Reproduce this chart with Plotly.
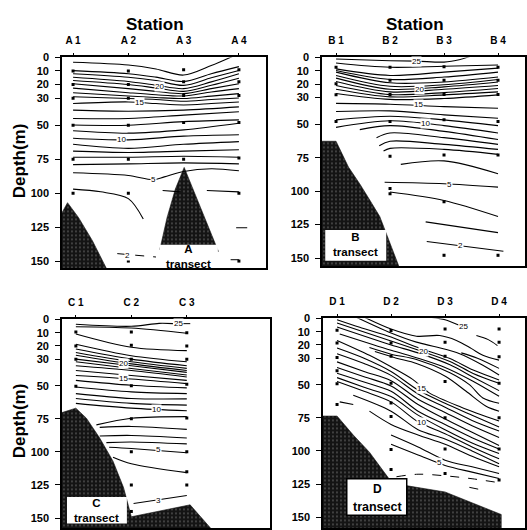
import plotly.graph_objects as go

W, H = 527, 530
FONT = "Liberation Sans"

DEPTH_TICKS = [0, 10, 20, 30, 50, 75, 100, 125, 150]
A_STATIONS = ["A 1", "A 2", "A 3", "A 4"]
B_STATIONS = ["B 1", "B 2", "B 3", "B 4"]
C_STATIONS = ["C 1", "C 2", "C 3"]
D_STATIONS = ["D 1", "D 2", "D 3", "D 4"]

# ---------- Transect A: isolines as (station position, depth m) ----------
A_ISOLINES = [
    [(0, 3.6), (1, 5.6), (1.5, 8.5), (2, 13), (2.5, 6), (2.9, -1)],
    [(0, 9.7), (1, 12), (1.5, 14.5), (2, 17.7), (2.5, 12), (3, 6.8)],
    [(0, 12), (1, 14.6), (1.5, 17), (2, 20.6), (2.5, 15), (3, 9.7)],
    [(0, 14.6), (1, 17.7), (1.5, 20.5), (2, 23), (2.5, 18), (3, 12)],
    [(0, 17), (1, 20), (1.5, 22.5), (2, 25), (2.5, 20.5), (3, 15.3)],
    [(0, 19.4), (1, 23), (1.5, 25), (2, 26.7), (2.5, 23), (3, 19.4)],
    [(0, 22.6), (1, 26), (1.5, 27.5), (2, 28.4), (2.5, 25.5), (3, 23)],
    [(0, 26), (1, 28.4), (1.5, 29.5), (2, 30.3), (2.5, 28.5), (3, 26.7)],
    [(0, 29), (1, 30.3), (1.5, 31), (2, 32.3), (2.5, 31), (3, 29.9)],
    [(0, 34), (1, 32.8), (1.5, 34), (2, 35), (2.5, 34), (3, 32.8)],
    [(0, 38.8), (1, 39.6), (2, 38.8), (3, 36.4)],
    [(0, 45), (1, 45), (2, 42.5), (3, 40)],
    [(0, 49.8), (1, 50), (2, 47.3), (3, 46)],
    [(0, 54), (1, 55.8), (2, 53.4), (3, 48.5)],
    [(0, 59.5), (1, 60.7), (2, 58), (3, 57)],
    [(0, 64), (1, 67), (2, 64), (3, 62)],
    [(0, 69), (1, 70), (2, 69), (3, 68)],
    [(0, 73.5), (1, 73.5), (2, 72.8), (3, 73.5)],
    [(0, 79), (1, 78.4), (2, 77.7), (3, 78.4)],
    [(0, 85), (1, 87), (1.45, 90), (1.65, 88), (2, 84), (2.5, 82), (3, 83.5)],
    [(0, 97), (0.5, 99), (1, 104), (1.27, 119)],
    [(1.62, 98), (1.95, 99)],
    [(2.42, 98), (3.0, 99)],
    [(2.95, 125.5), (3.15, 125.5)],
]
A_DASHED = [[(0.8, 144.5), (1.5, 147)], [(2.85, 149), (3.0, 149)]]
A_LABELS = [("20", 1.56, 21.4), ("15", 1.21, 33), ("10", 0.88, 60.7), ("5", 1.45, 90), ("2", 0.98, 145.6)]
A_SAMPLES = [(0, 10), (0, 20), (0, 30), (0, 50), (0, 75), (0, 100),
             (1, 10), (1, 20), (1, 30), (1, 50), (1, 75), (1, 100), (1, 150),
             (2, 9), (2, 18), (2, 28), (2, 48), (2, 75),
             (3, 9), (3, 18), (3, 28), (3, 48), (3, 74), (3, 100), (3, 150)]
A_SEABED = [
    [(-0.25, 118), (-0.1, 107), (0.1, 118), (0.35, 135), (0.66, 160), (-0.25, 160)],
    [(1.57, 141.5), (1.7, 118), (1.85, 97), (2.01, 81), (2.15, 95), (2.35, 115), (2.63, 143)],
]

# ---------- Transect B ----------
B_ISOLINES = [
    [(0, 1.2), (1, 2.5), (1.5, 2.8), (2, 3.5), (2.3, 1.5), (2.5, -1)],
    [(0, 4.2), (1, 7.4), (2, 6.6), (3, 5.7)],
    [(0, 8.6), (1, 13.5), (2, 11), (3, 8)],
    [(0, 9.8), (1, 16.5), (2, 14.7), (3, 11)],
    [(0, 11), (1, 19), (2, 18.4), (3, 14.7)],
    [(0, 13.5), (1, 21.6), (2, 20.4), (3, 16.5)],
    [(0, 15.5), (1, 23.8), (2, 22), (3, 18.4)],
    [(0, 18), (1, 25.8), (2, 23.8), (3, 21)],
    [(0, 21), (1, 27.8), (2, 26.3), (3, 23.3)],
    [(0, 23.8), (1, 29.5), (2, 28), (3, 25.8)],
    [(0, 27), (1, 31.4), (2, 30.7), (3, 28)],
    [(0, 34.4), (1, 35), (2, 36.8), (3, 38)],
    [(0, 40.5), (1, 40), (2, 43), (3, 45.5)],
    [(0, 46.7), (1, 44), (2, 46.7), (3, 51)],
    [(0, 52.3), (1, 47.4), (2, 51), (3, 56.5)],
    [(0.44, 54), (1, 51), (2, 55.3), (3, 61.4)],
    [(0.75, 60), (1, 56.5), (2, 60), (3, 65)],
    [(0.8, 66), (1, 62.7), (2, 65), (3, 68.8)],
    [(0.88, 70), (1, 68), (2, 68.8), (3, 72.5)],
    [(1.2, 80), (2, 77.4), (3, 87)],
    [(0.9, 93.4), (2, 94.5), (3, 97)],
    [(1.0, 100.7), (2, 107), (3, 119)],
    [(1.66, 123), (3, 131)],
    [(1.68, 137.6), (3.1, 145)],
]
B_DASHED = []
B_LABELS = [("25", 1.49, 3), ("20", 1.54, 24), ("15", 1.52, 35), ("10", 1.66, 49.6), ("5", 2.1, 94.8), ("2", 2.3, 140.3)]
B_SAMPLES = [(0, 7.4), (0, 19.7), (0, 28), (0, 48),
             (1, 7.4), (1, 17), (1, 27.8), (1, 48), (1, 74), (1, 98), (1, 102),
             (2, 7), (2, 17), (2, 27.8), (2, 46.7), (2, 73), (2, 108), (2, 148),
             (3, 7.4), (3, 17), (3, 27.8), (3, 48), (3, 73), (3, 148)]
B_SEABED = [
    [(-0.3, 62.7), (0, 62.7), (0.23, 82), (0.44, 94.6), (0.63, 107), (0.81, 119), (1.2, 160), (-0.3, 160)],
]

# ---------- Transect C ----------
C_ISOLINES = [
    [(0, 3.7), (1, 5.2), (1.5, 3), (1.75, 3.2)],
    [(0, 5.5), (1, 6.5), (2, 10.4)],
    [(0, 11), (1, 21), (2, 23.6)],
    [(0, 18.7), (1, 27.4), (2, 32)],
    [(0, 22.4), (1, 30), (2, 35)],
    [(0, 25), (1, 32), (2, 37)],
    [(0, 27), (1, 33.6), (2, 38.6)],
    [(0, 30), (1, 35), (2, 40)],
    [(0, 32), (1, 37), (2, 42)],
    [(0, 35), (1, 38.6), (2, 43.5)],
    [(0, 38.6), (1, 42.3), (2, 46)],
    [(0, 42.3), (1, 45), (2, 48.5)],
    [(0, 46), (1, 49.7), (2, 51.7)],
    [(0, 51), (1, 54.7), (2, 56)],
    [(0, 56), (1, 59.7), (2, 60)],
    [(0, 59.7), (1, 63.4), (2, 64.7)],
    [(0, 63.4), (1, 67), (2, 69)],
    [(0.37, 79.6), (1, 74.6), (2, 73.4)],
    [(0.43, 81.5), (1, 80.8), (2, 83)],
    [(0.43, 88), (1, 87.6), (2, 89.5)],
    [(0.55, 93), (1, 92.5), (2, 94)],
    [(0.6, 96.5), (1, 97.5), (2, 100.7)],
    [(0.67, 104), (1, 109), (2, 115.7)],
    [(1.04, 139), (2, 133)],
]
C_DASHED = [[(1.9, 3.2), (2.1, 3.2)]]
C_LABELS = [("25", 1.85, 3.2), ("20", 0.86, 33.6), ("15", 0.86, 44.8), ("10", 1.46, 67.7), ("5", 1.49, 98.5), ("3", 1.49, 136.5)]
C_SAMPLES = [(0, 9.5), (0, 20), (0, 30), (0, 50.5),
             (1, 9.5), (1, 19.5), (1, 30), (1, 50), (1, 75), (1, 100), (1, 125), (1, 145),
             (2, 10), (2, 20), (2, 30), (2, 49), (2, 74.5), (2, 100), (2, 115), (2, 125)]
C_SEABED = [
    [(-0.3, 71), (0, 67), (0.19, 74.6), (0.43, 89.6), (0.67, 107), (0.86, 127), (1.0, 149),
     (2.06, 140), (2.48, 160), (-0.3, 160)],
]

# ---------- Transect D ----------
D_ISOLINES = [
    [(1.7, -1), (2, 1), (2.25, 5)],
    [(2.58, 12.9), (2.8, 16), (2.97, 20.5)],
    [(2.3, 26), (2.6, 30), (3.0, 37.7)],
    [(0.5, -1), (1, 8), (1.47, 13.4), (1.9, 12.9), (2.21, 16.6), (2.49, 22.8), (2.7, 27.8), (3, 31.5)],
    [(0.35, -1), (1, 11), (1.47, 17.9), (1.84, 21.6), (2.27, 26.6), (2.7, 35.3), (3, 42.7)],
    [(0, 1), (0.42, 6.7), (1, 14), (1.47, 21.6), (2.09, 30.3), (2.52, 39), (3, 46.4)],
    [(0, 3.5), (1, 17), (1.47, 23.5), (2.09, 32.5), (2.52, 41.5), (3, 49)],
    [(0, 6.5), (1, 20), (1.5, 26), (2.09, 35), (2.55, 45), (3, 54.5)],
    [(0.05, 11.7), (1, 24), (1.5, 30), (2, 37), (2.5, 47), (3, 58.8)],
    [(0.6, 22), (1, 27), (1.47, 31), (2.09, 41), (2.45, 50), (2.7, 60), (3, 64)],
    [(0.7, 25), (1.1, 30), (1.47, 34), (2.02, 44), (2.39, 55), (2.76, 66.3), (3, 70)],
    [(0, 16.6), (0.6, 27.8), (1, 36.5), (1.4, 46), (1.7, 56), (2.3, 67), (3, 77.4)],
    [(0, 22.3), (0.5, 30), (1, 40), (1.5, 54), (2, 64), (2.5, 73), (3, 82)],
    [(0, 26.6), (0.5, 34), (1, 43), (1.5, 57), (2, 67), (2.5, 77), (3, 85)],
    [(0, 32.8), (0.5, 40), (1, 47), (1.5, 61), (2, 71), (2.5, 81), (3, 89.8)],
    [(0, 37), (0.5, 44), (1, 51), (1.5, 65), (2, 76), (2.5, 86), (3, 96)],
    [(0, 41.4), (0.5, 48), (1, 55), (1.5, 70), (2, 80), (2.5, 90), (3, 98.5)],
    [(0, 44.7), (0.5, 52), (1, 59), (1.5, 73), (2, 84), (2.5, 94), (3, 102)],
    [(0, 47.6), (0.5, 55), (1, 63), (1.5, 78), (2, 87), (2.5, 97), (3, 106)],
    [(0.3, 58), (1, 70), (1.5, 84), (2, 91), (2.5, 100), (3, 109.7)],
    [(0.6, 70), (1, 80), (1.5, 88), (2, 95), (2.5, 104), (3, 112)],
    [(1, 88), (1.5, 97), (2, 107), (2.5, 112), (3, 117)],
    [(1.0, 95), (1.5, 103), (2, 111), (2.5, 116), (3, 120.8)],
    [(0.05, 63), (0.3, 65)],
]
D_DASHED = [[(1.1, 119.5), (1.5, 117.6), (2.0, 118.8), (2.5, 121), (3, 124)], [(2.45, 127.5), (2.75, 130)]]
D_LABELS = [("25", 2.35, 6), ("20", 1.6, 25), ("15", 1.57, 52.6), ("10", 1.57, 78.7), ("5", 1.9, 108.5)]
D_SAMPLES = [(0, 9), (0, 18.6), (0, 29.5), (0, 39.5), (0, 49.4), (0, 65),
             (1, 9.2), (1, 18.6), (1, 28.5), (1, 49), (1, 63.8), (1, 74), (1, 99), (1, 114),
             (2, 8), (2, 17.9), (2, 28.5), (2, 47.6), (2, 75), (2, 98.5), (2, 117),
             (3, 8), (3, 17.9), (3, 29), (3, 49), (3, 75), (3, 98.5), (3, 122)]
D_SEABED = [
    [(-0.3, 73.7), (0, 73.7), (0.3, 88), (0.6, 101), (0.98, 122), (1.25, 126), (2, 131),
     (2.5, 139), (3.04, 148), (3.04, 160), (-0.3, 160)],
]

# ---------- panel geometry (pixels) ----------
PANELS = [
    dict(k="", x=(62, 266), y=(52, 265), xr=(-0.2, 3.49), yr=(155.1, 0), st=A_STATIONS,
         iso=A_ISOLINES, dash=A_DASHED, lab=A_LABELS, smp=A_SAMPLES, bed=A_SEABED,
         tag="A", tagx=2.09, box=((1.57, 2.62), (138, 157)), ty=(146.5,), border=False),
    dict(k="2", x=(322, 525), y=(52, 263), xr=(-0.26, 3.5), yr=(156, 0), st=B_STATIONS,
         iso=B_ISOLINES, dash=B_DASHED, lab=B_LABELS, smp=B_SAMPLES, bed=B_SEABED,
         tag="B", tagx=0.36, box=((-0.2, 0.93), (129, 152)), ty=(140,), border=False),
    dict(k="3", x=(62, 270), y=(317, 528), xr=(-0.25, 3.5), yr=(157.5, 0), st=C_STATIONS,
         iso=C_ISOLINES, dash=C_DASHED, lab=C_LABELS, smp=C_SAMPLES, bed=C_SEABED,
         tag="C", tagx=0.38, box=((-0.16, 0.92), (134, 154)), ty=(144.5,), border=False),
    dict(k="4", x=(323, 525), y=(316, 528), xr=(-0.26, 3.48), yr=(158.2, 0), st=D_STATIONS,
         iso=D_ISOLINES, dash=D_DASHED, lab=D_LABELS, smp=D_SAMPLES, bed=D_SEABED,
         tag="D", tagx=0.74, box=((0.18, 1.29), (121, 148.5)), ty=(128.5, 142), border=True),
]


def flatten(lines):
    xs, ys = [], []
    for ln in lines:
        for px, py in ln:
            xs.append(px)
            ys.append(py)
        xs.append(None)
        ys.append(None)
    return xs, ys


fig = go.Figure()
annotations = []
shapes = []
layout_axes = {}

for p in PANELS:
    k = p["k"]
    xref, yref = "x" + k, "y" + k
    for poly in p["bed"]:
        fig.add_trace(go.Scatter(
            x=[q[0] for q in poly], y=[q[1] for q in poly], xaxis=xref, yaxis=yref,
            mode="lines", fill="toself", line=dict(width=0.6, color="#111"),
            fillcolor="#151515",
            fillpattern=dict(shape=".", bgcolor="#141414", fgcolor="#8c8c8c", size=4, solidity=0.18),
            hoverinfo="skip", showlegend=False))
    xs, ys = flatten(p["iso"])
    fig.add_trace(go.Scatter(x=xs, y=ys, xaxis=xref, yaxis=yref, mode="lines",
                             line=dict(color="black", width=1.1, shape="spline", smoothing=0.9),
                             connectgaps=False, hoverinfo="skip", showlegend=False))
    if p["dash"]:
        xs, ys = flatten(p["dash"])
        fig.add_trace(go.Scatter(x=xs, y=ys, xaxis=xref, yaxis=yref, mode="lines",
                                 line=dict(color="black", width=1, dash="dash", shape="spline"),
                                 connectgaps=False, hoverinfo="skip", showlegend=False))
    fig.add_trace(go.Scatter(x=[s[0] for s in p["smp"]], y=[s[1] for s in p["smp"]],
                             xaxis=xref, yaxis=yref, mode="markers",
                             marker=dict(symbol="square", size=3, color="black"),
                             hoverinfo="skip", showlegend=False))
    for txt, lx, ly in p["lab"]:
        annotations.append(dict(x=lx, y=ly, xref=xref, yref=yref, text=txt, showarrow=False,
                                font=dict(family=FONT, size=8, color="#000000"),
                                bgcolor="white", borderpad=0))
    (bx0, bx1), (by0, by1) = p["box"]
    shapes.append(dict(type="rect", xref=xref, yref=yref, x0=bx0, x1=bx1, y0=by0, y1=by1,
                       fillcolor="white", layer="above",
                       line=dict(color="black", width=1.5 if p["border"] else 0)))
    if len(p["ty"]) == 1:
        annotations.append(dict(x=p["tagx"], y=p["ty"][0], xref=xref, yref=yref,
                                text=p["tag"] + "<br>transect", showarrow=False,
                                xanchor="center", yanchor="middle",
                                font=dict(family=FONT, size=11.5, color="black", weight="bold")))
    else:
        annotations.append(dict(x=p["tagx"], y=p["ty"][0], xref=xref, yref=yref, text=p["tag"],
                                showarrow=False, xanchor="center", yanchor="middle",
                                font=dict(family=FONT, size=12, color="black", weight="bold")))
        annotations.append(dict(x=p["tagx"], y=p["ty"][1], xref=xref, yref=yref, text="transect",
                                showarrow=False, xanchor="center", yanchor="middle",
                                font=dict(family=FONT, size=12.5, color="black", weight="bold")))

    x0, x1 = p["x"]
    y0, y1 = p["y"]
    ax_common = dict(showline=True, mirror=True, linecolor="black", linewidth=1.6,
                     showgrid=False, zeroline=False, ticks="outside", tickcolor="black")
    layout_axes["xaxis" + k] = dict(ax_common, domain=[x0 / W, x1 / W], range=list(p["xr"]),
                                    side="top", tickvals=list(range(len(p["st"]))), ticktext=p["st"],
                                    ticklen=3, tickwidth=1.2, anchor=yref, ticklabelstandoff=5,
                                    tickfont=dict(family=FONT, size=10, color="black", weight="bold"))
    layout_axes["yaxis" + k] = dict(ax_common, domain=[1 - y1 / H, 1 - y0 / H], range=list(p["yr"]),
                                    tickvals=DEPTH_TICKS, ticktext=[str(v) for v in DEPTH_TICKS],
                                    ticklen=5, tickwidth=1.2, anchor=xref, ticklabelstandoff=4,
                                    tickfont=dict(family=FONT, size=11, color="black", weight="bold"))

for tx in (155, 415):
    annotations.append(dict(x=tx / W, y=1 - 19 / H, xref="paper", yref="paper", text="Station",
                            xanchor="center", yanchor="middle", showarrow=False,
                            font=dict(family=FONT, size=17, color="black", weight="bold")))
for ty in (157, 420):
    annotations.append(dict(x=19 / W, y=1 - ty / H, xref="paper", yref="paper", text="Depth(m)",
                            xanchor="center", yanchor="middle", textangle=-90, showarrow=False,
                            font=dict(family=FONT, size=17, color="black", weight="bold")))

fig.update_layout(width=W, height=H, margin=dict(l=0, r=0, t=0, b=0),
                  paper_bgcolor="white", plot_bgcolor="white",
                  annotations=annotations, shapes=shapes, **layout_axes)

fig.write_html("out.html")
